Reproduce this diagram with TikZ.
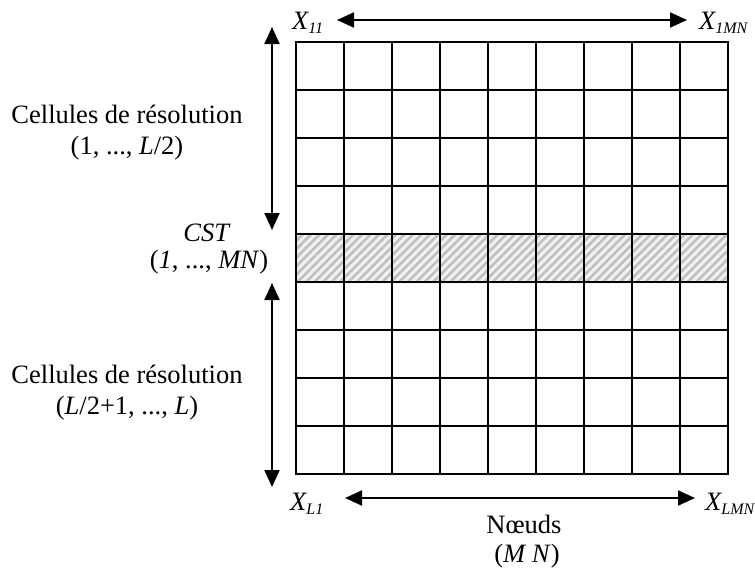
\documentclass[tikz,border=0pt]{standalone}
\usepackage{fontspec}
\setmainfont{Liberation Serif}
\usetikzlibrary{arrows.meta,patterns.meta}
\newcommand{\mysub}[1]{\raisebox{-4pt}{\fontsize{16}{16}\selectfont #1}}
\tikzset{
  gridline/.style={line width=1.8pt, line cap=rect},
  dbl/.style={line width=2pt, {Triangle[length=17pt,width=15pt]}-{Triangle[length=17pt,width=15pt]}},
  lab/.style={inner sep=0pt, font=\fontsize{26.5}{31}\selectfont}
}
\begin{document}
\begin{tikzpicture}[x=1pt,y=-1pt]
\useasboundingbox (0,0) rectangle (755,571);
% hatched row
\fill[gray!12] (296,234) rectangle (728,282);
\fill[pattern={Lines[angle=45,distance=6pt,line width=2.6pt]}, pattern color=gray!50] (296,234) rectangle (728,282);
% grid
\foreach \i in {0,...,9} {
  \draw[gridline] ({296+48*\i},42) -- ({296+48*\i},474);
  \draw[gridline] (296,{42+48*\i}) -- (728,{42+48*\i});
}
% corner labels
\node[lab, anchor=base west] (x11) at (292,29) {\textit{X\mysub{11}}};
\node[lab, anchor=base west] (x1mn) at (699,29) {\textit{X\mysub{1MN}}};
\node[lab, anchor=base west] (xl1) at (290,510) {\textit{X\mysub{L1}}};
\node[lab, anchor=base west] (xlmn) at (705,510) {\textit{X\mysub{LMN}}};
% horizontal arrows
\coordinate (ta) at (337,20);
\coordinate (tb) at (687,20);
\draw[dbl] (ta) -- (tb);
\coordinate (ba) at (345,498);
\coordinate (bb) at (695,498);
\draw[dbl] (ba) -- (bb);
% vertical arrows
\coordinate (va) at (272,27);
\coordinate (vb) at (272,230);
\draw[dbl] (va) -- (vb);
\coordinate (vc) at (272,283);
\coordinate (vd) at (272,487);
\draw[dbl] (vc) -- (vd);
% left labels
\node[lab, anchor=base] (c1a) at (127,123) {Cellules de résolution};
\node[lab, anchor=base] (c1b) at (127,154) {(1, ..., \textit{L}/2)};
\node[lab, anchor=base] (cst) at (207,241) {\textit{CST}};
\node[lab, anchor=base] (cstb) at (209,268) {(\textit{1}, ..., \textit{MN})};
\node[lab, anchor=base] (c2a) at (127,383) {Cellules de résolution};
\node[lab, anchor=base] (c2b) at (127,414) {(\textit{L}/2+1, ..., \textit{L})};
% bottom labels
\node[lab, anchor=base] (nd) at (524,533) {Nœuds};
\node[lab, anchor=base] (mn) at (527,562) {(\textit{M N})};
\end{tikzpicture}
\end{document}
